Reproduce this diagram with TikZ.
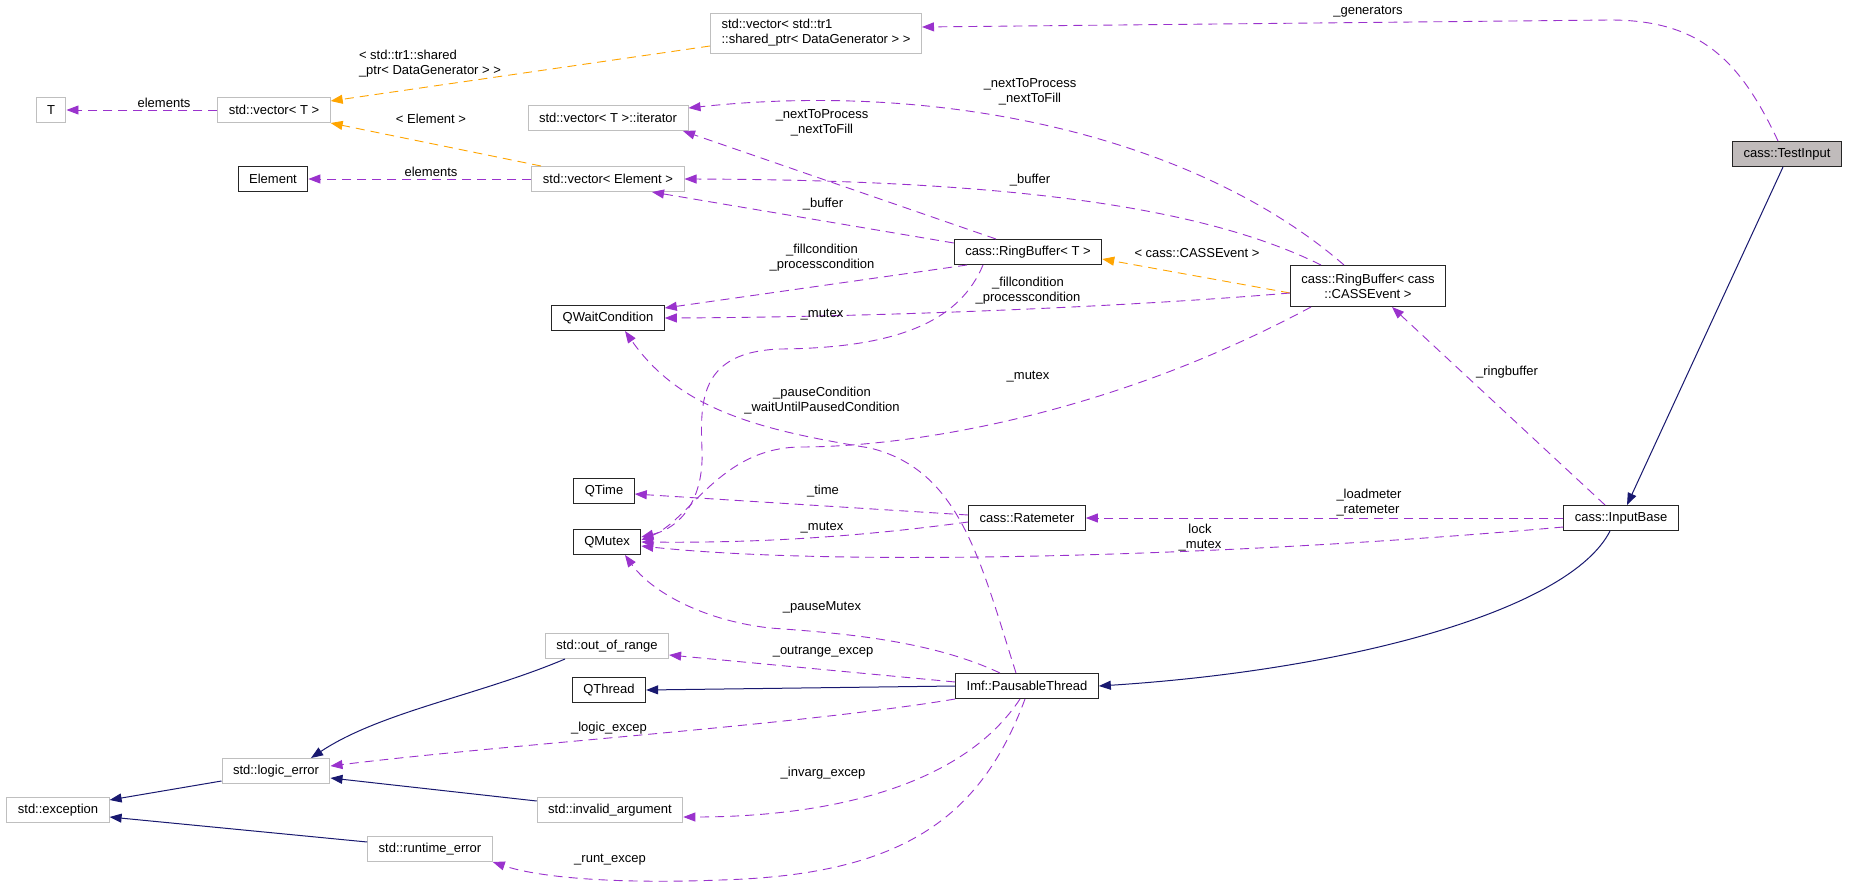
\documentclass[tikz,border=0pt]{standalone}
\usepackage{fontspec}
\setmainfont{Liberation Sans}
\usetikzlibrary{arrows.meta}

\definecolor{usecol}{HTML}{9A32CD}
\definecolor{tmplcol}{HTML}{FFA500}
\definecolor{inhcol}{HTML}{191970}
\definecolor{extcol}{HTML}{BFBFBF}
\definecolor{focusfill}{HTML}{C0BBBB}

\begin{document}
\begin{tikzpicture}[x=1pt, y=-1pt,
  cls/.style={draw=black!85, line width=1pt, fill=white, inner xsep=11pt, inner ysep=0pt, minimum height=25pt, font=\fontsize{13}{15}\selectfont, align=center},
  extcls/.style={cls, draw=extcol},
  focuscls/.style={cls, fill=focusfill},
  dep/.style={line width=0.9pt, dash pattern=on 9pt off 6pt, -{Triangle[length=12pt,width=9pt]}},
  uses/.style={dep, usecol},
  tmpl/.style={dep, tmplcol},
  inherit/.style={inhcol, line width=1pt, -{Triangle[length=12pt,width=9pt]}},
  lbl/.style={font=\fontsize{13}{15}\selectfont, align=center, inner sep=0pt}
]
\fill[white] (0,0) rectangle (1851,886);
\path[use as bounding box] (0,0) rectangle (1851,886);

% classes
\node[extcls] (T) at (51,110) {T};
\node[extcls] (vecT) at (274,110) {std::vector< T >};
\node[extcls, align=left, minimum height=40pt] (vecSP) at (816,33) {std::vector< std::tr1\\::shared\_ptr< DataGenerator > >};
\node[extcls] (iter) at (608,118) {std::vector< T >::iterator};
\node[cls] (Element) at (273,179) {Element};
\node[extcls] (vecE) at (608,179) {std::vector< Element >};
\node[cls] (RBT) at (1028,252) {cass::RingBuffer< T >};
\node[cls] (QWait) at (608,318) {QWaitCondition};
\node[cls, minimum height=41pt] (RBC) at (1368,286) {cass::RingBuffer< cass\\::CASSEvent >};
\node[focuscls] (TestInput) at (1787,154) {cass::TestInput};
\node[cls] (QTime) at (604,491) {QTime};
\node[cls] (QMutex) at (607,542) {QMutex};
\node[cls] (Ratemeter) at (1027,518) {cass::Ratemeter};
\node[cls] (InputBase) at (1621,518) {cass::InputBase};
\node[extcls] (outofrange) at (607,646) {std::out\_of\_range};
\node[cls] (QThread) at (609,690) {QThread};
\node[cls] (Pausable) at (1027,686) {Imf::PausableThread};
\node[extcls] (logic) at (276,771) {std::logic\_error};
\node[extcls] (exception) at (58,810) {std::exception};
\node[extcls] (invarg) at (610,810) {std::invalid\_argument};
\node[extcls] (runtime) at (430,849) {std::runtime\_error};

% inheritance
\draw[inherit] ([xshift=-4pt]TestInput.south) -- ([xshift=6pt]InputBase.north);
\draw[inherit] ([xshift=-11pt]InputBase.south) .. controls (1570,610) and (1350,670) .. (Pausable.east);
\draw[inherit] (Pausable.west) -- (QThread.east);
\draw[inherit] ([xshift=-42pt]outofrange.south) .. controls (480,695) and (380,712) .. ([xshift=35pt]logic.north);
\draw[inherit] ([yshift=9pt]invarg.west) -- ([yshift=-7pt]logic.east);
\draw[inherit] ([yshift=-10pt]logic.west) -- ([yshift=10pt]exception.east);
\draw[inherit] ([yshift=7pt]runtime.west) -- ([yshift=-7pt]exception.east);

% template instances
\draw[tmpl] ([yshift=-13pt]vecSP.west) -- ([yshift=9pt]vecT.east);
\draw[tmpl] ([xshift=-67pt]vecE.north) -- (vecT.south east);
\draw[tmpl] ([yshift=-7pt]RBC.west) -- ([yshift=-7pt]RBT.east);

% usage
\draw[uses] ([xshift=-9pt]TestInput.north) .. controls (1740,60) and (1700,20) .. (1610,20) -- ([yshift=6pt]vecSP.east);
\draw[uses] (vecT) -- (T);
\draw[uses] (vecE) -- (Element);
\draw[uses] ([xshift=-32pt]RBT.north) -- ([xshift=75pt]iter.south);
\draw[uses] ([xshift=-24pt]RBC.north) .. controls (1200,140) and (950,80) .. ([yshift=10pt]iter.east);
\draw[uses] ([yshift=9pt]RBT.west) -- ([xshift=44pt]vecE.south);
\draw[uses] ([xshift=-47pt]RBC.north) .. controls (1200,205) and (1000,180) .. (vecE.east);
\draw[uses] ([xshift=-61pt]RBT.south) -- ([yshift=10pt]QWait.east);
\draw[uses] ([yshift=-7pt]RBC.west) .. controls (1150,305) and (900,317) .. (QWait.east);
\draw[uses] ([xshift=-45pt]RBT.south) .. controls (960,320) and (900,348) .. (780,349) .. controls (700,352) and (700,400) .. (702,450) .. controls (704,500) and (680,528) .. ([yshift=5pt]QMutex.east);
\draw[uses] ([xshift=-57pt]RBC.south) .. controls (1100,420) and (900,447) .. (800,447) .. controls (720,448) and (690,520) .. ([yshift=2pt]QMutex.east);
\draw[uses] ([xshift=-16pt]InputBase.north) -- ([xshift=24pt]RBC.south);
\draw[uses] (InputBase) -- (Ratemeter);
\draw[uses] ([yshift=-9pt]InputBase.west) .. controls (1250,555) and (850,568) .. ([yshift=-4pt]QMutex.east);
\draw[uses] ([yshift=3pt]Ratemeter.west) -- ([yshift=-3pt]QTime.east);
\draw[uses] ([yshift=-4pt]Ratemeter.west) .. controls (850,538) and (750,543) .. (QMutex.east);
\draw[uses] ([xshift=-11pt]Pausable.north) .. controls (980,560) and (960,470) .. (870,448) .. controls (760,430) and (680,410) .. ([xshift=17pt]QWait.south);
\draw[uses] ([xshift=-27pt]Pausable.north) .. controls (930,640) and (840,633) .. (770,628) .. controls (700,620) and (650,590) .. ([xshift=18pt]QMutex.south);
\draw[uses] ([yshift=4pt]Pausable.west) -- ([yshift=-9pt]outofrange.east);
\draw[uses] ([yshift=-13pt]Pausable.west) .. controls (800,725) and (500,745) .. ([yshift=5pt]logic.east);
\draw[uses] ([xshift=-7pt]Pausable.south) .. controls (960,790) and (820,817) .. ([yshift=-7pt]invarg.east);
\draw[uses] ([xshift=-2pt]Pausable.south) .. controls (980,820) and (900,875) .. (720,880) .. controls (620,884) and (540,878) .. (runtime.south east);

% labels
\node[lbl] (lgen) at (1368,12) {\_generators};
\node[lbl, align=left] (ltmplsp) at (430,64) {< std::tr1::shared\\\_ptr< DataGenerator > >};
\node[lbl] (lelT) at (164,103) {elements};
\node[lbl] (ltmplE) at (431,119) {< Element >};
\node[lbl] (lelE) at (431,172) {elements};
\node[lbl] (lnextA) at (1030,92) {\_nextToProcess\\\_nextToFill};
\node[lbl] (lnextB) at (822,123) {\_nextToProcess\\\_nextToFill};
\node[lbl] (lbufA) at (1030,180) {\_buffer};
\node[lbl] (lbufB) at (823,204) {\_buffer};
\node[lbl] (lfillA) at (822,258) {\_fillcondition\\\_processcondition};
\node[lbl] (lcass) at (1197,253) {< cass::CASSEvent >};
\node[lbl] (lfillB) at (1028,291) {\_fillcondition\\\_processcondition};
\node[lbl] (lmutA) at (822,315) {\_mutex};
\node[lbl] (lmutB) at (1028,377) {\_mutex};
\node[lbl] (lring) at (1507,372) {\_ringbuffer};
\node[lbl] (lpause) at (822,401) {\_pauseCondition\\\_waitUntilPausedCondition};
\node[lbl] (ltime) at (823,491) {\_time};
\node[lbl] (lmutC) at (822,528) {\_mutex};
\node[lbl, align=left] (lload) at (1369,503) {\_loadmeter\\\_ratemeter};
\node[lbl] (llock) at (1200,538) {lock\\\_mutex};
\node[lbl] (lpmut) at (822,607) {\_pauseMutex};
\node[lbl] (lout) at (823,652) {\_outrange\_excep};
\node[lbl] (llogic) at (609,728) {\_logic\_excep};
\node[lbl] (linv) at (823,773) {\_invarg\_excep};
\node[lbl] (lrunt) at (610,860) {\_runt\_excep};
\end{tikzpicture}
\end{document}
